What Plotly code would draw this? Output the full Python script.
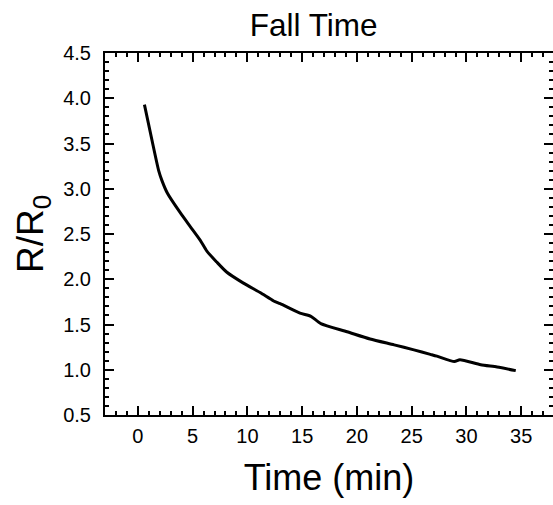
import plotly.graph_objects as go

# Data
time_min = [0.6, 1.3, 1.9, 2.2, 2.7, 3.9, 4.8, 5.7, 6.3, 7.2, 8.1, 9.6, 11.2, 12.4,
            13.0, 14.8, 15.8, 16.7, 19.1, 21.2, 23.4, 25.2, 26.7, 27.3, 28.9, 29.4,
            31.3, 32.8, 34.5]
r_ratio = [3.93, 3.53, 3.20, 3.09, 2.95, 2.73, 2.58, 2.43, 2.31, 2.19, 2.08, 1.96, 1.85, 1.76,
           1.73, 1.625, 1.59, 1.51, 1.42, 1.34, 1.275, 1.22, 1.17, 1.15, 1.09, 1.11,
           1.055, 1.03, 0.99]

title_text = "Fall Time"
x_title = "Time (min)"
y_title = "R/R<sub>0</sub>"

FONT = "Liberation Sans, Arial, sans-serif"

fig = go.Figure()
fig.add_trace(go.Scatter(x=time_min, y=r_ratio, mode="lines",
                         line=dict(color="black", width=3, shape="spline", smoothing=0.6),
                         showlegend=False))

axis_common = dict(
    showline=True, linecolor="black", linewidth=2,
    ticks="inside", ticklen=9, tickwidth=2, tickcolor="black",
    mirror="allticks", showgrid=False, zeroline=False, automargin=False,
    tickfont=dict(family=FONT, size=20, color="black"),
)

fig.update_xaxes(range=[-3, 37.9], tick0=0, dtick=5,
                 minor=dict(dtick=1, ticks="inside", ticklen=4, tickwidth=2, tickcolor="black"),
                 title=dict(text=x_title, font=dict(family=FONT, size=36, color="black"), standoff=19),
                 ticklabelstandoff=2,
                 **axis_common)
fig.update_yaxes(range=[0.5, 4.5], tick0=0.5, dtick=0.5, tickformat=".1f",
                 minor=dict(dtick=0.1, ticks="inside", ticklen=4, tickwidth=2, tickcolor="black"),
                 title=dict(text=y_title, font=dict(family=FONT, size=37, color="black"), standoff=8),
                 ticklabelstandoff=8,
                 **axis_common)

fig.update_layout(
    width=553, height=505,
    margin=dict(l=105, r=0, t=53, b=90, autoexpand=False),
    paper_bgcolor="white", plot_bgcolor="white",
    title=dict(text=title_text, x=313.7 / 553, xanchor="center",
               y=1 - 25 / 505, yanchor="middle",
               font=dict(family=FONT, size=31.5, color="black")),
)

fig.write_html("out.html", config={"displayModeBar": False},
               post_script="document.body.style.margin='0';document.body.style.overflow='hidden';")
